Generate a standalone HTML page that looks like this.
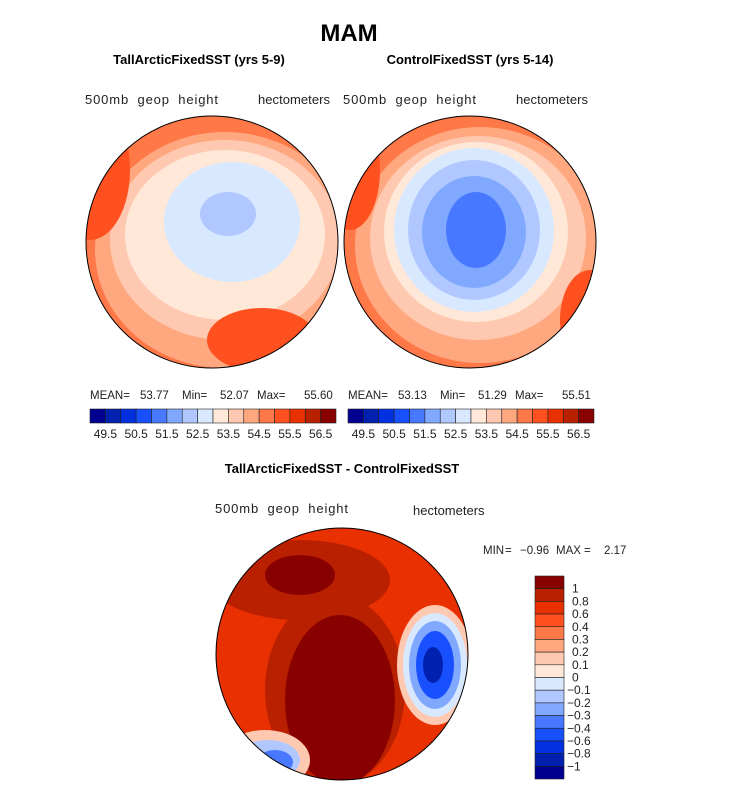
<!DOCTYPE html>
<html><head><meta charset="utf-8"><style>
body{margin:0;background:#fff;width:733px;height:788px;overflow:hidden;font-family:"Liberation Sans",sans-serif}
svg{position:absolute;left:0;top:0}
</style></head><body>
<svg width="733" height="788">
<defs>
<clipPath id="cL"><circle cx="212" cy="242" r="126"/></clipPath>
<clipPath id="cR"><circle cx="470" cy="242" r="126"/></clipPath>
<clipPath id="cB"><circle cx="342" cy="654" r="126"/></clipPath>
</defs>
<text x="349" y="41" text-anchor="middle" font-size="24" font-weight="bold">MAM</text>
<text x="199" y="64" text-anchor="middle" font-size="13" font-weight="bold">TallArcticFixedSST (yrs 5-9)</text>
<text x="470" y="64" text-anchor="middle" font-size="13" font-weight="bold">ControlFixedSST (yrs 5-14)</text>
<g font-size="13" fill="#222">
<text x="85" y="104" textLength="133" lengthAdjust="spacing" word-spacing="4">500mb geop height</text>
<text x="258" y="104" textLength="72">hectometers</text>
<text x="343" y="104" textLength="133" word-spacing="4">500mb geop height</text>
<text x="516" y="104" textLength="72">hectometers</text>
<text x="215" y="513" textLength="133" word-spacing="4">500mb geop height</text>
<text x="413" y="515">hectometers</text>
</g>
<text x="342" y="473" text-anchor="middle" font-size="13" font-weight="bold">TallArcticFixedSST - ControlFixedSST</text>

<g clip-path="url(#cL)">
<rect x="80" y="110" width="270" height="270" fill="#ff7848"/>
<ellipse cx="225" cy="250" rx="130" ry="118" fill="#ffa880"/>
<ellipse cx="225" cy="240" rx="115" ry="100" fill="#ffc8b0"/>
<ellipse cx="225" cy="235" rx="100" ry="85" fill="#ffe8d8"/>
<ellipse cx="232" cy="222" rx="68" ry="60" fill="#d8e8ff"/>
<ellipse cx="228" cy="214" rx="28" ry="22" fill="#b0c8ff"/>
<ellipse cx="262" cy="340" rx="55" ry="32" fill="#ff5020"/>
<ellipse cx="90" cy="170" rx="40" ry="70" fill="#ff5020"/>
</g>
<circle cx="212" cy="242" r="126" fill="none" stroke="#000" stroke-width="1"/>

<g clip-path="url(#cR)">
<rect x="340" y="110" width="270" height="270" fill="#ff7848"/>
<ellipse cx="480" cy="245" rx="125" ry="118" fill="#ffa880"/>
<ellipse cx="478" cy="238" rx="108" ry="102" fill="#ffc8b0"/>
<ellipse cx="476" cy="232" rx="92" ry="90" fill="#ffe8d8"/>
<ellipse cx="474" cy="230" rx="80" ry="82" fill="#d8e8ff"/>
<ellipse cx="474" cy="230" rx="66" ry="70" fill="#b0c8ff"/>
<ellipse cx="474" cy="232" rx="52" ry="56" fill="#80a8ff"/>
<ellipse cx="476" cy="230" rx="30" ry="38" fill="#4878ff"/>
<ellipse cx="350" cy="170" rx="30" ry="60" fill="#ff5020"/>
<ellipse cx="590" cy="320" rx="30" ry="50" fill="#ff5020"/>
</g>
<circle cx="470" cy="242" r="126" fill="none" stroke="#000" stroke-width="1"/>

<g clip-path="url(#cB)">
<rect x="210" y="520" width="270" height="270" fill="#e83000"/>
<ellipse cx="300" cy="580" rx="90" ry="40" fill="#b82000"/>
<ellipse cx="335" cy="690" rx="70" ry="95" fill="#b82000"/>
<ellipse cx="340" cy="700" rx="55" ry="85" fill="#880000"/>
<ellipse cx="300" cy="575" rx="35" ry="20" fill="#880000"/>
<ellipse cx="435" cy="665" rx="38" ry="60" fill="#ffc8b0"/>
<ellipse cx="435" cy="665" rx="32" ry="52" fill="#d8e8ff"/>
<ellipse cx="435" cy="665" rx="26" ry="44" fill="#80a8ff"/>
<ellipse cx="435" cy="665" rx="19" ry="34" fill="#1850ff"/>
<ellipse cx="433" cy="665" rx="10" ry="18" fill="#0020b0"/>
<ellipse cx="265" cy="760" rx="45" ry="30" fill="#ffc8b0"/>
<ellipse cx="268" cy="760" rx="32" ry="20" fill="#b0c8ff"/>
<ellipse cx="275" cy="762" rx="18" ry="12" fill="#4878ff"/>
</g>
<circle cx="342" cy="654" r="126" fill="none" stroke="#000" stroke-width="1"/>

<g font-size="11.5" fill="#222">
<text x="90" y="399">MEAN=</text><text x="140" y="399">53.77</text><text x="182" y="399">Min=</text><text x="220" y="399">52.07</text><text x="257" y="399">Max=</text><text x="304" y="399">55.60</text>
<text x="348" y="399">MEAN=</text><text x="398" y="399">53.13</text><text x="440" y="399">Min=</text><text x="478" y="399">51.29</text><text x="515" y="399">Max=</text><text x="562" y="399">55.51</text>
<text x="483" y="554">MIN</text><text x="505" y="554">=</text><text x="520" y="554">−0.96</text><text x="556" y="554">MAX</text><text x="584" y="554">=</text><text x="604" y="554">2.17</text>
</g>
<g id="bars"></g>
</svg>
<script>
const colors=["#000090","#0020b0","#0030e0","#1850ff","#4878ff","#80a8ff","#b0c8ff","#d8e8ff","#ffe8d8","#ffc8b0","#ffa880","#ff7848","#ff5020","#e83000","#b82000","#880000"];
const hLabels=["49.5","50.5","51.5","52.5","53.5","54.5","55.5","56.5"];
const vLabels=["1","0.8","0.6","0.4","0.3","0.2","0.1","0","−0.1","−0.2","−0.3","−0.4","−0.6","−0.8","−1"];
const NS="http://www.w3.org/2000/svg";
const g=document.getElementById('bars');
function mk(t,a){const e=document.createElementNS(NS,t);for(const k in a)e.setAttribute(k,a[k]);g.appendChild(e);return e;}
[90,348].forEach((x0,bi)=>{
  const w=246/colors.length;
  colors.forEach((c,i)=>{
    const r=mk('rect',{x:x0+i*w,y:409,width:w,height:14,fill:c,stroke:'#222','stroke-width':0.6});
    
    
  });
  hLabels.forEach((l,i)=>{
    const t=mk('text',{x:x0+(2*i+1)*w,y:438,'text-anchor':'middle','font-size':12,fill:'#222'});
    t.textContent=l;
    
    
  });
});
const h=203/colors.length;
colors.slice().reverse().forEach((c,i)=>{
  const r=mk('rect',{x:535,y:576+i*h,width:29,height:h,fill:c,stroke:'#222','stroke-width':0.6});
  
  
});
vLabels.forEach((l,i)=>{
  const t=mk('text',{x:l.startsWith('−')?567:572,y:576+(i+1)*h+4,'font-size':12,fill:'#222'});
  t.textContent=l;
  
  
});
</script>
</body></html>
